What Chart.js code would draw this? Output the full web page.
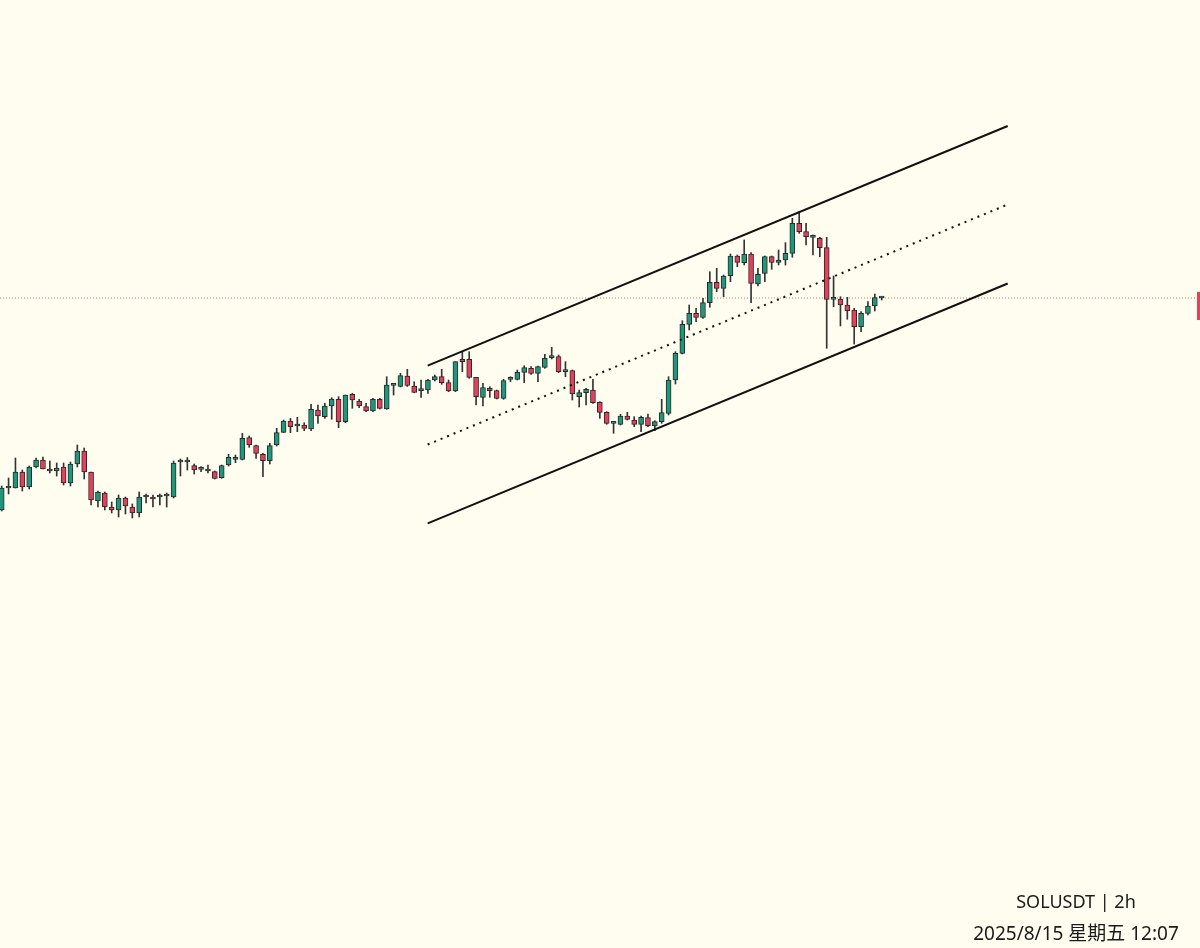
<!DOCTYPE html>
<html>
<head>
<meta charset="utf-8">
<script src="https://cdn.jsdelivr.net/npm/chart.js@4.4.1/dist/chart.umd.min.js"></script>
<style>
  html, body { margin: 0; padding: 0; background: #fffdf0; }
  #wrap { position: relative; width: 1200px; height: 948px; }
  .caption { position: absolute; left: 926px; width: 300px; text-align: center;
             font-family: "Noto Sans", "Noto Sans CJK SC", sans-serif; font-size: 18px;
             line-height: 22px; color: #1a1a1a; }
</style>
</head>
<body>
<div id="wrap">
  <canvas id="solChart"></canvas>
  <div class="caption" style="top:890px">SOLUSDT | 2h</div>
  <div class="caption" style="top:922px; font-size:19px">2025/8/15 星期五 12:07</div>
</div>
<script>
// 2h candles
var opens = [148.0, 152.4, 152.4, 155.6, 152.6, 156.6, 158.0, 156.2, 155.8, 156.6,
  153.4, 157.2, 159.8, 155.6, 149.8, 151.4, 148.6, 148.0, 150.4, 148.6,
  147.4, 150.6, 150.6, 150.6, 150.8, 150.6, 157.6, 157.6, 156.86, 156.14,
  156.2, 155.66, 154.46, 157.0, 158.14, 158.14, 162.46, 160.86, 159.14, 157.86,
  161.0, 163.54, 165.8, 164.8, 165.0, 164.2, 168.0, 166.66, 168.8, 170.14,
  165.66, 171.14, 169.8, 168.66, 167.8, 170.14, 168.2, 172.94, 172.74, 174.8,
  172.8, 171.86, 172.0, 174.0, 174.66, 173.46, 171.8, 178.14, 178.14, 174.54,
  170.54, 172.34, 171.86, 170.34, 174.14, 174.14, 175.54, 176.34, 175.34, 176.54,
  178.46, 178.66, 175.66, 175.86, 170.66, 171.46, 172.0, 169.54, 167.54, 165.34,
  165.14, 166.8, 166.0, 165.14, 166.46, 164.8, 165.66, 167.34, 174.0, 179.34,
  185.14, 187.34, 186.54, 189.46, 193.54, 192.34, 194.86, 198.8, 197.46, 199.2,
  193.2, 195.34, 198.66, 197.54, 198.0, 199.34, 205.34, 203.66, 202.54, 202.34,
  200.46, 190.14, 190.2, 189.0, 188.0, 184.66, 187.34, 188.8, 190.4];
var highs = [152.8, 154.4, 158.4, 156.0, 156.8, 158.4, 158.6, 157.8, 157.4, 157.4,
  157.6, 161.0, 160.4, 155.6, 151.8, 151.6, 149.6, 151.0, 150.6, 149.2,
  151.6, 151.2, 151.0, 151.2, 151.4, 157.8, 158.2, 158.5, 157.2, 156.66,
  157.0, 155.8, 157.0, 159.14, 159.0, 163.34, 162.8, 161.0, 159.34, 161.34,
  164.34, 166.0, 166.34, 166.54, 165.46, 169.14, 169.0, 169.34, 170.46, 170.66,
  171.0, 171.34, 170.14, 169.34, 170.34, 170.34, 174.66, 173.14, 175.34, 176.14,
  173.66, 174.0, 174.14, 175.0, 176.14, 174.0, 177.66, 179.66, 179.66, 174.54,
  173.34, 172.66, 172.0, 174.14, 174.66, 176.0, 176.86, 176.66, 176.8, 179.14,
  180.54, 179.0, 177.66, 176.0, 172.0, 172.34, 174.14, 169.66, 167.66, 165.66,
  167.14, 167.54, 166.66, 166.8, 167.2, 165.86, 170.14, 174.66, 179.66, 185.86,
  189.0, 188.34, 190.34, 195.66, 196.34, 195.0, 199.2, 199.0, 202.0, 199.46,
  196.34, 198.8, 198.8, 200.0, 201.46, 206.34, 207.66, 205.34, 203.0, 202.54,
  202.54, 194.8, 190.66, 190.54, 188.34, 187.66, 189.66, 191.2, 190.6];
var lows = [147.8, 151.2, 152.4, 151.8, 152.2, 156.4, 156.2, 155.4, 154.8, 153.0,
  152.8, 156.6, 154.2, 149.0, 148.6, 148.0, 147.4, 146.6, 147.2, 146.4,
  146.6, 149.4, 148.6, 149.0, 148.6, 150.4, 154.8, 156.0, 155.2, 155.66,
  155.4, 154.2, 154.34, 156.8, 157.46, 158.0, 160.54, 158.34, 154.66, 157.2,
  160.8, 163.46, 163.46, 163.66, 163.86, 163.86, 165.34, 166.34, 166.14, 164.46,
  165.46, 168.34, 168.46, 167.66, 167.66, 168.2, 168.14, 171.0, 172.6, 172.7,
  171.46, 170.54, 171.34, 173.8, 173.14, 171.66, 171.66, 175.66, 174.34, 169.0,
  168.8, 170.54, 170.2, 170.14, 173.66, 174.0, 173.46, 175.14, 173.66, 176.34,
  178.2, 175.46, 174.66, 170.0, 168.6, 169.0, 169.34, 166.34, 165.14, 163.34,
  165.0, 166.0, 164.66, 163.66, 164.66, 163.86, 165.34, 167.0, 173.2, 179.2,
  184.0, 185.66, 186.34, 188.54, 191.66, 190.66, 193.66, 196.66, 197.0, 189.46,
  192.8, 193.66, 196.14, 197.0, 197.0, 198.54, 203.34, 201.0, 199.0, 198.66,
  180.34, 188.66, 184.8, 186.14, 181.2, 183.66, 187.0, 187.8, 190.0];
var closes = [152.4, 152.5, 155.6, 152.6, 156.6, 158.0, 156.2, 155.8, 156.4, 153.4,
  157.2, 159.8, 155.6, 150.0, 151.6, 148.6, 148.0, 150.4, 148.8, 147.4,
  150.6, 150.7, 150.2, 150.6, 150.8, 157.4, 157.6, 157.6, 156.0, 156.14,
  155.8, 154.34, 156.86, 158.54, 158.46, 162.34, 161.0, 159.34, 157.86, 160.86,
  163.46, 165.8, 164.66, 164.8, 164.34, 168.14, 166.8, 168.8, 170.2, 165.66,
  171.0, 170.0, 168.8, 167.8, 170.14, 168.34, 173.0, 172.94, 174.86, 172.9,
  171.54, 171.86, 174.0, 174.66, 173.46, 171.8, 177.66, 177.66, 174.54, 170.66,
  172.46, 171.86, 170.34, 173.86, 174.14, 175.54, 176.46, 175.34, 176.66, 178.34,
  178.46, 175.66, 175.66, 171.2, 171.46, 172.14, 169.46, 167.54, 165.34, 165.34,
  166.8, 166.14, 165.14, 166.54, 164.86, 165.66, 167.46, 174.0, 179.34, 185.14,
  187.34, 186.54, 189.46, 193.54, 192.34, 194.8, 198.8, 197.54, 199.2, 193.34,
  195.14, 198.66, 197.54, 198.0, 199.34, 205.34, 203.66, 202.66, 202.54, 200.46,
  190.14, 190.2, 189.0, 187.86, 184.66, 187.34, 188.8, 190.46, 190.4];

// channel drawn on the chart (candle number, price)
var upperLine = [{x: 62.96, y: 176.86}, {x: 147.33, y: 224.8}];
var middleLine = [{x: 62.96, y: 161.1}, {x: 147.33, y: 209.1}];
var lowerLine = [{x: 62.96, y: 145.34}, {x: 147.33, y: 193.3}];
var lastPrice = 190.4;

var xMin = 0.7527, xMax = 175.298;

var bodies = [], wicks = [], colors = [];
for (var i = 0; i < opens.length; i++) {
    bodies.push({x: i + 1, y: [opens[i], closes[i]]});
    wicks.push({x: i + 1, y: [lows[i], highs[i]]});
    colors.push(closes[i] >= opens[i] ? "#1f977a" : "#e4405d");
}

var priceTag = {
    id: "priceTag",
    afterDraw: function (chart) {
        var c = chart.ctx;
        var y = chart.scales.y.getPixelForValue(lastPrice);
        c.save();
        c.fillStyle = "#e4405d";
        c.fillRect(chart.chartArea.right - 3, y - 6, 3, 28);
        c.restore();
    }
};

var ctx = document.getElementById("solChart");

new Chart(ctx, {
    type: "bar",
    data: {
        datasets: [
            {
                label: "body",
                data: bodies,
                backgroundColor: colors,
                borderColor: "#2a2a2a",
                borderWidth: 1,
                borderSkipped: false,
                barThickness: 5,
                minBarLength: 2,
                grouped: false,
                order: 1
            },
            {
                label: "wick",
                data: wicks,
                backgroundColor: "#333333",
                borderWidth: 0,
                barThickness: 1,
                grouped: false,
                order: 2
            },
            {
                type: "line",
                data: upperLine,
                borderColor: "#111111",
                borderWidth: 2,
                pointRadius: 0,
                order: 0
            },
            {
                type: "line",
                data: lowerLine,
                borderColor: "#111111",
                borderWidth: 2,
                pointRadius: 0,
                order: 0
            },
            {
                type: "line",
                data: middleLine,
                borderColor: "#111111",
                borderWidth: 2,
                borderDash: [2, 5],
                pointRadius: 0,
                order: 0
            },
            {
                type: "line",
                data: [{x: xMin, y: lastPrice}, {x: xMax, y: lastPrice}],
                borderColor: "#e07070",
                borderWidth: 1,
                borderDash: [1, 2],
                pointRadius: 0,
                order: 3
            }
        ]
    },
    options: {
        responsive: true,
        maintainAspectRatio: false,
        animation: false,
        layout: { padding: 0 },
        plugins: {
            legend: { display: false },
            tooltip: { enabled: false }
        },
        scales: {
            x: { type: "linear", min: xMin, max: xMax, offset: false, display: false },
            y: { type: "linear", min: 60.4, max: 250, display: false }
        }
    },
    plugins: [priceTag]
});
</script>
</body>
</html>
